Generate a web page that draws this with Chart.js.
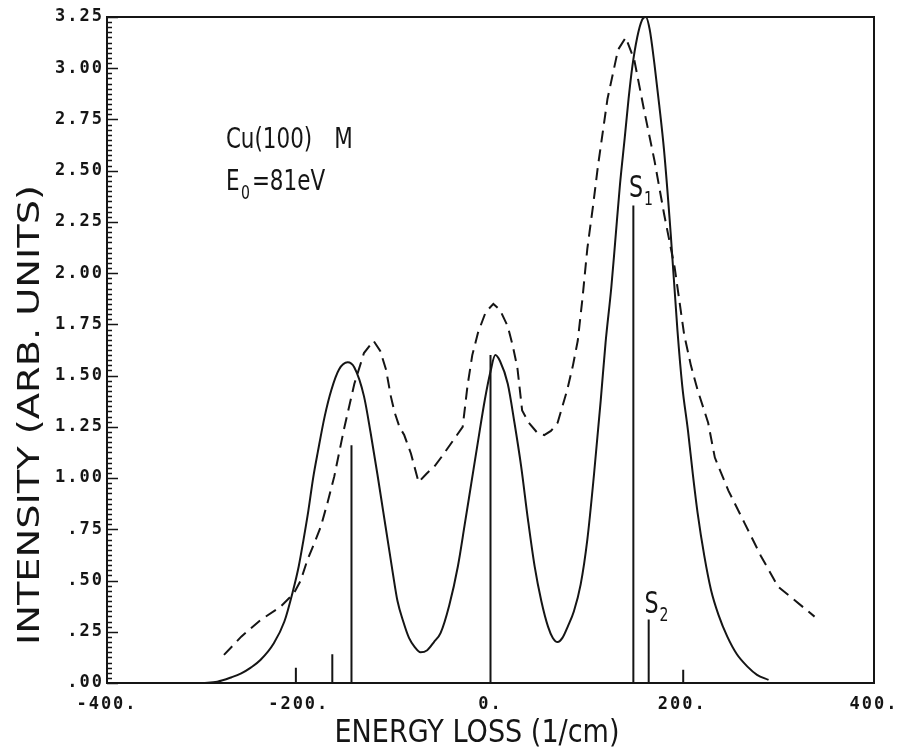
<!DOCTYPE html>
<html>
<head>
<meta charset="utf-8">
<title>Cu(100) energy loss</title>
<script src="https://cdn.jsdelivr.net/npm/chart.js@4.4.0/dist/chart.umd.min.js"></script>
<style>
  html, body { margin: 0; padding: 0; background: #fff; }
  #wrap { width: 898px; height: 753px; }
</style>
</head>
<body>
<div id="wrap"><canvas id="lossChart" width="898" height="753"></canvas></div>
<script>
// --- Data ---
// calculated spectrum (solid)
const solidX = [-300, -285, -270, -260, -250, -240, -226, -215, -206, -200, -195, -190, -185, -180, -173, -166, -158, -149, -142, -132, -125,
  -118, -112, -107, -102, -97, -91, -85, -79, -73, -66, -59, -52, -43, -34, -27, -20, -13, -6, 0, 5,
  10, 18, 25, 32, 39, 46, 53, 60, 65, 70, 75, 81, 87, 94, 101, 108, 115, 120, 126, 130,
  135, 140, 144, 148, 153, 158, 162, 166, 171, 176, 181, 188, 195, 200, 206, 211, 216, 223, 230, 238,
  247, 257, 268, 278, 290];
const solidY = [0, 0.006, 0.028, 0.047, 0.075, 0.112, 0.194, 0.30, 0.45, 0.57, 0.70, 0.84, 1.0, 1.13, 1.30, 1.43, 1.53, 1.565, 1.54, 1.40, 1.22,
  1.02, 0.84, 0.69, 0.54, 0.40, 0.30, 0.22, 0.175, 0.15, 0.16, 0.20, 0.245, 0.38, 0.57, 0.77, 0.975, 1.18, 1.38, 1.52, 1.60,
  1.57, 1.46, 1.27, 1.056, 0.80, 0.57, 0.40, 0.275, 0.22, 0.20, 0.22, 0.28, 0.35, 0.48, 0.70, 1.02, 1.38, 1.66, 1.93, 2.15,
  2.43, 2.66, 2.85, 3.01, 3.15, 3.235, 3.25, 3.19, 3.02, 2.82, 2.60, 2.19, 1.72, 1.45, 1.23, 1.02, 0.83, 0.62, 0.454, 0.33,
  0.226, 0.14, 0.08, 0.04, 0.015];

// measured spectrum (dashed)
const dashX = [-278, -260, -240, -219, -205, -198, -191, -184, -177, -170, -163, -153, -142, -132, -122, -115, -109, -104, -100, -95,
  -90, -83, -75, -67, -58, -50, -41, -29, -24, -19, -13, -5, 3, 10, 18, 23, 28, 33, 40, 49,
  56, 63, 70, 80, 86, 91, 96, 101, 107, 112, 122, 133, 141, 150, 160, 171, 181, 192, 202, 209,
  216, 227, 234, 248, 265, 282, 300, 317, 338];
const dashY = [0.137, 0.226, 0.307, 0.372, 0.438, 0.50, 0.60, 0.68, 0.763, 0.88, 1.007, 1.235, 1.46, 1.61, 1.67, 1.62, 1.53, 1.40, 1.32, 1.25,
  1.21, 1.12, 0.98, 1.02, 1.06, 1.11, 1.17, 1.25, 1.45, 1.60, 1.71, 1.81, 1.85, 1.82, 1.74, 1.65, 1.54, 1.33, 1.27, 1.22,
  1.21, 1.23, 1.27, 1.43, 1.55, 1.67, 1.88, 2.12, 2.33, 2.52, 2.85, 3.09, 3.15, 3.04, 2.80, 2.55, 2.29, 2.03, 1.70, 1.55,
  1.43, 1.27, 1.10, 0.94, 0.78, 0.62, 0.47, 0.405, 0.324];

// loss lines
const stickX = [-203, -165, -145, 0, 149, 165, 201];
const stickY = [0.075, 0.14, 1.16, 1.6, 2.33, 0.31, 0.065];

const xTicks = [-400, -200, 0, 200, 400];

const INK = '#151515';

function pairs(xs, ys) {
  return xs.map((x, i) => ({ x: x, y: ys[i] }));
}

// each line goes from 0 up to its height, null breaks between them
const stickData = [];
stickX.forEach((x, i) => {
  stickData.push({ x: x, y: 0 }, { x: x, y: stickY[i] }, { x: x, y: null });
});

// --- Helpers ---
function squeezedText(ctx, str, x, y, size, sx, align) {
  ctx.save();
  ctx.font = size + 'px "DejaVu Sans"';
  ctx.textAlign = align || 'left';
  ctx.textBaseline = 'alphabetic';
  ctx.translate(x, y);
  ctx.scale(sx, 1);
  ctx.fillText(str, 0, 0);
  ctx.restore();
}

function fitText(ctx, str, cx, cy, size, width, angle) {
  ctx.save();
  ctx.font = size + 'px "DejaVu Sans"';
  ctx.textAlign = 'center';
  ctx.textBaseline = 'alphabetic';
  const sx = width / ctx.measureText(str).width;
  ctx.translate(cx, cy);
  ctx.rotate(angle);
  ctx.scale(sx, 1);
  ctx.fillText(str, 0, 0);
  ctx.restore();
}

// --- Plugin: background, frame, inner ticks, labels ---
const plotDecor = {
  id: 'plotDecor',
  beforeDraw(chart) {
    const ctx = chart.ctx;
    ctx.save();
    ctx.fillStyle = '#fff';
    ctx.fillRect(0, 0, chart.width, chart.height);
    ctx.restore();
    ctx.letterSpacing = '2px';
  },
  afterDraw(chart) {
    const ctx = chart.ctx;
    const a = chart.chartArea;
    const xs = chart.scales.x;
    const ys = chart.scales.y;
    ctx.letterSpacing = '0px';

    ctx.save();
    ctx.strokeStyle = INK;
    ctx.lineWidth = 2;
    ctx.strokeRect(a.left, a.top, a.right - a.left, a.bottom - a.top);

    // inward ticks on the intensity axis
    ctx.lineWidth = 1.3;
    ctx.beginPath();
    for (let i = 0; i <= 130; i++) {
      const py = Math.round(ys.getPixelForValue(i * 0.025)) + 0.5;
      const len = i % 10 === 0 ? 11 : 5;
      ctx.moveTo(a.left, py);
      ctx.lineTo(a.left + len, py);
    }
    ctx.stroke();
    ctx.restore();

    ctx.save();
    ctx.fillStyle = INK;

    // axis titles
    fitText(ctx, 'ENERGY LOSS (1/cm)', 477, 742, 32, 285, 0);
    fitText(ctx, 'INTENSITY (ARB. UNITS)', 39, 415, 31, 460, -Math.PI / 2);

    // sample / beam note
    const sq = 0.74;
    squeezedText(ctx, 'Cu(100)', xs.getPixelForValue(-276), ys.getPixelForValue(2.611), 29, sq);
    squeezedText(ctx, 'M', xs.getPixelForValue(-163), ys.getPixelForValue(2.611), 29, sq);
    const ex = xs.getPixelForValue(-276);
    const ey = ys.getPixelForValue(2.406);
    squeezedText(ctx, 'E', ex, ey, 29, sq);
    squeezedText(ctx, '0', ex + 15, ey + 9, 19, sq);
    squeezedText(ctx, '=81eV', ex + 26, ey, 29, sq);

    // surface phonon labels
    const s1x = xs.getPixelForValue(144.5);
    const s1y = ys.getPixelForValue(2.372);
    squeezedText(ctx, 'S', s1x, s1y, 30, sq);
    squeezedText(ctx, '1', s1x + 15, s1y + 8, 19, sq);
    const s2x = xs.getPixelForValue(160.5);
    const s2y = ys.getPixelForValue(0.342);
    squeezedText(ctx, 'S', s2x, s2y, 30, sq);
    squeezedText(ctx, '2', s2x + 15, s2y + 8, 19, sq);
    ctx.restore();
  }
};

// --- Chart ---
const tickFont = { family: '"DejaVu Sans Mono"', size: 17, weight: 'bold' };

const ctx = document.getElementById('lossChart').getContext('2d');
const lossChart = new Chart(ctx, {
  type: 'scatter',
  data: {
    datasets: [
      {
        label: 'calculated',
        data: pairs(solidX, solidY),
        showLine: true,
        borderColor: INK,
        borderWidth: 2,
        pointRadius: 0,
        cubicInterpolationMode: 'monotone'
      },
      {
        label: 'measured',
        data: pairs(dashX, dashY),
        showLine: true,
        borderColor: INK,
        borderWidth: 2,
        borderDash: [12, 7],
        pointRadius: 0,
        tension: 0
      },
      {
        label: 'lines',
        data: stickData,
        showLine: true,
        spanGaps: false,
        borderColor: INK,
        borderWidth: 2,
        pointRadius: 0,
        tension: 0
      }
    ]
  },
  options: {
    responsive: false,
    animation: false,
    layout: { padding: { top: 17, right: 24, left: 0, bottom: 0 } },
    plugins: {
      legend: { display: false },
      tooltip: { enabled: false }
    },
    scales: {
      x: {
        type: 'linear',
        min: -400,
        max: 400,
        afterFit: s => { s.height = 70; s.paddingLeft = 0; s.paddingRight = 0; },
        afterBuildTicks: s => { s.ticks = xTicks.map(v => ({ value: v })); },
        grid: { display: false, drawTicks: false },
        border: { display: false },
        ticks: {
          padding: 11,
          color: INK,
          font: tickFont,
          maxRotation: 0,
          autoSkip: false,
          callback: v => v + '.'
        }
      },
      y: {
        type: 'linear',
        min: 0,
        max: 3.25,
        afterFit: s => { s.width = 107; s.paddingTop = 0; s.paddingBottom = 0; },
        grid: { display: false, drawTicks: false },
        border: { display: false },
        ticks: {
          stepSize: 0.25,
          padding: 3,
          color: INK,
          font: tickFont,
          autoSkip: false,
          callback: v => {
            const s = v.toFixed(2);
            return v < 1 ? s.slice(1) : s;
          }
        }
      }
    }
  },
  plugins: [plotDecor]
});
</script>
</body>
</html>
